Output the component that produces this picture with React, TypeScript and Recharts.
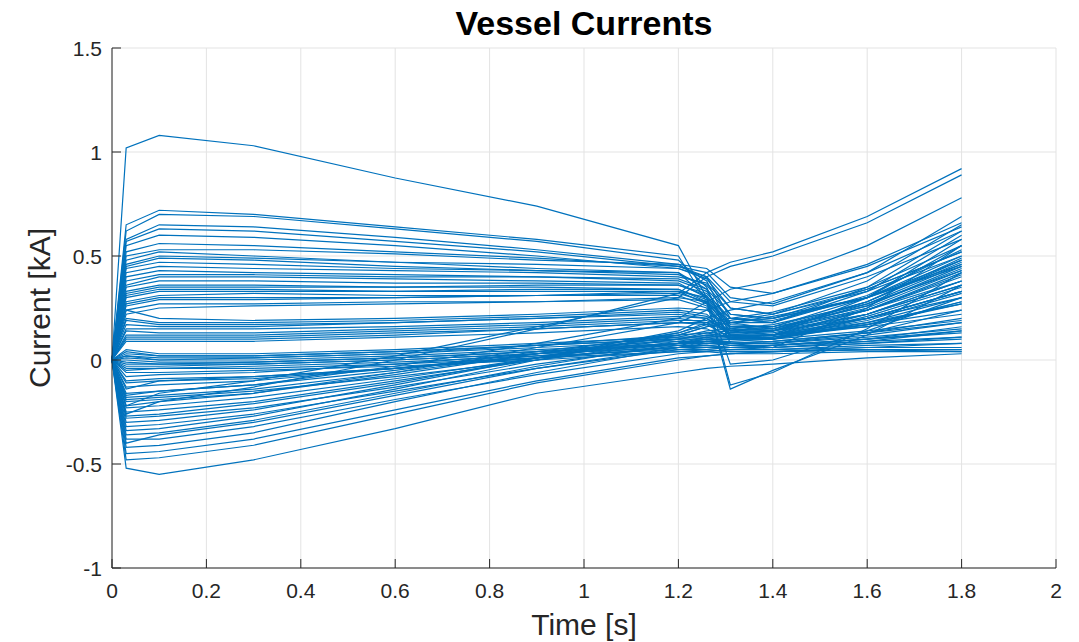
import { CartesianGrid, Line, LineChart, XAxis, YAxis } from "recharts"

// sample times [s]
const time = [0, 0.03, 0.1, 0.3, 0.6, 0.9, 1.2, 1.26, 1.31, 1.4, 1.6, 1.8]

// vessel filament currents [kA], one row per filament
const vesselCurrents: number[][] = [
  [0, 1.02, 1.08, 1.03, 0.875, 0.74, 0.55, 0.3, -0.12, -0.06, 0.15, 0.42],
  [0, 0.65, 0.72, 0.7, 0.64, 0.58, 0.5, 0.28, -0.14, -0.05, 0.12, 0.36],
  [0, 0.62, 0.7, 0.69, 0.63, 0.57, 0.48, 0.35, 0.08, 0.06, 0.25, 0.55],
  [0, 0.58, 0.65, 0.64, 0.59, 0.53, 0.46, 0.38, 0.15, 0.12, 0.3, 0.58],
  [0, 0.57, 0.63, 0.62, 0.57, 0.52, 0.45, 0.4, 0.2, 0.18, 0.35, 0.62],
  [0, 0.55, 0.6, 0.59, 0.55, 0.5, 0.44, 0.39, 0.25, 0.22, 0.38, 0.65],
  [0, 0.52, 0.56, 0.55, 0.52, 0.49, 0.45, 0.42, 0.3, 0.27, 0.42, 0.69],
  [0, 0.5, 0.53, 0.53, 0.51, 0.48, 0.46, 0.44, 0.35, 0.32, 0.45, 0.64],
  [0, 0.48, 0.52, 0.5, 0.47, 0.44, 0.42, 0.34, 0.12, 0.1, 0.2, 0.33],
  [0, 0.46, 0.5, 0.49, 0.47, 0.46, 0.44, 0.4, 0.28, 0.26, 0.4, 0.58],
  [0, 0.45, 0.49, 0.48, 0.45, 0.43, 0.41, 0.36, 0.22, 0.2, 0.34, 0.52],
  [0, 0.44, 0.47, 0.46, 0.44, 0.43, 0.42, 0.3, -0.02, 0, 0.14, 0.3],
  [0, 0.42, 0.45, 0.44, 0.43, 0.42, 0.4, 0.37, 0.25, 0.22, 0.33, 0.5],
  [0, 0.4, 0.43, 0.42, 0.41, 0.4, 0.39, 0.34, 0.22, 0.2, 0.3, 0.46],
  [0, 0.38, 0.41, 0.41, 0.4, 0.4, 0.38, 0.33, 0.18, 0.15, 0.26, 0.44],
  [0, 0.36, 0.4, 0.4, 0.39, 0.38, 0.37, 0.3, 0.16, 0.14, 0.28, 0.47],
  [0, 0.35, 0.38, 0.38, 0.37, 0.37, 0.36, 0.32, 0.2, 0.18, 0.31, 0.53],
  [0, 0.33, 0.36, 0.36, 0.35, 0.35, 0.34, 0.28, 0.14, 0.12, 0.24, 0.4],
  [0, 0.32, 0.35, 0.35, 0.35, 0.36, 0.36, 0.31, 0.17, 0.16, 0.3, 0.55],
  [0, 0.31, 0.34, 0.34, 0.33, 0.33, 0.33, 0.27, 0.12, 0.1, 0.22, 0.38],
  [0, 0.3, 0.33, 0.33, 0.33, 0.34, 0.34, 0.29, 0.16, 0.15, 0.28, 0.49],
  [0, 0.28, 0.31, 0.32, 0.31, 0.31, 0.31, 0.26, 0.11, 0.1, 0.21, 0.35],
  [0, 0.27, 0.3, 0.3, 0.3, 0.31, 0.33, 0.3, 0.2, 0.19, 0.3, 0.5],
  [0, 0.26, 0.29, 0.29, 0.3, 0.31, 0.32, 0.28, 0.15, 0.14, 0.27, 0.46],
  [0, 0.24, 0.27, 0.27, 0.28, 0.28, 0.29, 0.25, 0.12, 0.12, 0.24, 0.41],
  [0, 0.22, 0.25, 0.26, 0.27, 0.28, 0.3, 0.28, 0.18, 0.18, 0.33, 0.6],
  [0, 0.24, 0.2, 0.19, 0.2, 0.22, 0.25, 0.24, 0.16, 0.16, 0.28, 0.48],
  [0, 0.2, 0.18, 0.18, 0.19, 0.21, 0.24, 0.22, 0.12, 0.12, 0.22, 0.38],
  [0, 0.19, 0.17, 0.17, 0.18, 0.2, 0.22, 0.2, 0.12, 0.12, 0.2, 0.33],
  [0, 0.17, 0.16, 0.16, 0.18, 0.2, 0.23, 0.21, 0.14, 0.14, 0.25, 0.43],
  [0, 0.15, 0.15, 0.15, 0.16, 0.18, 0.21, 0.2, 0.13, 0.13, 0.22, 0.36],
  [0, 0.14, 0.13, 0.13, 0.15, 0.17, 0.2, 0.18, 0.1, 0.1, 0.18, 0.3],
  [0, 0.12, 0.12, 0.12, 0.14, 0.16, 0.19, 0.19, 0.14, 0.15, 0.26, 0.45],
  [0, 0.11, 0.11, 0.11, 0.13, 0.15, 0.18, 0.17, 0.11, 0.11, 0.19, 0.32],
  [0, 0.1, 0.1, 0.1, 0.12, 0.15, 0.18, 0.18, 0.13, 0.14, 0.24, 0.42],
  [0, 0.09, 0.09, 0.09, 0.11, 0.13, 0.16, 0.15, 0.1, 0.1, 0.17, 0.28],
  [0, 0.05, 0.03, 0.03, 0.05, 0.08, 0.11, 0.11, 0.08, 0.08, 0.12, 0.18],
  [0, 0.03, 0.02, 0.02, 0.04, 0.07, 0.1, 0.1, 0.08, 0.08, 0.11, 0.15],
  [0, 0.02, 0.01, 0.01, 0.03, 0.06, 0.09, 0.09, 0.07, 0.07, 0.1, 0.13],
  [0, 0.01, 0, 0, 0.02, 0.05, 0.08, 0.08, 0.07, 0.07, 0.09, 0.11],
  [0, 0, -0.01, -0.01, 0.01, 0.04, 0.07, 0.07, 0.06, 0.06, 0.08, 0.1],
  [0, -0.01, -0.02, -0.02, 0, 0.03, 0.06, 0.06, 0.05, 0.05, 0.07, 0.08],
  [0, -0.02, -0.02, -0.01, 0.01, 0.04, 0.08, 0.09, 0.08, 0.09, 0.13, 0.2],
  [0, -0.03, -0.03, -0.02, 0, 0.03, 0.06, 0.06, 0.05, 0.05, 0.06, 0.06],
  [0, 0.02, 0, 0.01, 0.03, 0.07, 0.12, 0.13, 0.11, 0.12, 0.18, 0.27],
  [0, -0.04, -0.04, -0.03, -0.01, 0.02, 0.05, 0.05, 0.04, 0.04, 0.05, 0.04],
  [0, -0.05, -0.04, -0.04, -0.02, 0.01, 0.04, 0.05, 0.04, 0.04, 0.05, 0.05],
  [0, 0.04, 0.02, 0.02, 0.04, 0.07, 0.1, 0.12, 0.11, 0.12, 0.16, 0.22],
  [0, -0.06, -0.06, -0.05, -0.03, 0, 0.04, 0.04, 0.03, 0.03, 0.04, 0.04],
  [0, -0.08, -0.07, -0.06, -0.02, 0.03, 0.08, 0.09, 0.08, 0.08, 0.13, 0.24],
  [0, -0.1, -0.09, -0.08, -0.04, 0.01, 0.06, 0.07, 0.06, 0.06, 0.09, 0.14],
  [0, -0.11, -0.1, -0.09, -0.04, 0.02, 0.08, 0.1, 0.1, 0.11, 0.16, 0.28],
  [0, -0.13, -0.12, -0.1, -0.04, 0.03, 0.1, 0.13, 0.14, 0.16, 0.24, 0.38],
  [0, -0.14, -0.1, -0.08, -0.04, 0.01, 0.06, 0.07, 0.06, 0.07, 0.1, 0.16],
  [0, -0.16, -0.15, -0.12, -0.05, 0.04, 0.12, 0.16, 0.18, 0.2, 0.3, 0.48],
  [0, -0.17, -0.15, -0.12, -0.03, 0.08, 0.2, 0.28, 0.34, 0.38, 0.55, 0.78],
  [0, -0.18, -0.17, -0.14, -0.06, 0.03, 0.11, 0.14, 0.15, 0.17, 0.27, 0.43],
  [0, -0.19, -0.18, -0.15, -0.08, 0, 0.08, 0.1, 0.1, 0.11, 0.17, 0.27],
  [0, -0.2, -0.19, -0.16, -0.07, 0.03, 0.13, 0.18, 0.2, 0.23, 0.35, 0.55],
  [0, -0.22, -0.2, -0.16, -0.06, 0.06, 0.18, 0.24, 0.28, 0.32, 0.46, 0.66],
  [0, -0.22, -0.16, -0.1, 0.02, 0.16, 0.3, 0.4, 0.45, 0.5, 0.66, 0.89],
  [0, -0.23, -0.22, -0.18, -0.09, 0.01, 0.1, 0.12, 0.13, 0.14, 0.2, 0.3],
  [0, -0.25, -0.24, -0.2, -0.1, 0, 0.09, 0.11, 0.11, 0.12, 0.17, 0.24],
  [0, -0.26, -0.2, -0.13, 0, 0.15, 0.32, 0.42, 0.47, 0.52, 0.69, 0.92],
  [0, -0.27, -0.26, -0.21, -0.11, 0.01, 0.12, 0.16, 0.18, 0.21, 0.3, 0.45],
  [0, -0.28, -0.27, -0.23, -0.13, -0.02, 0.07, 0.09, 0.09, 0.1, 0.14, 0.19],
  [0, -0.3, -0.29, -0.24, -0.12, 0.01, 0.14, 0.2, 0.24, 0.28, 0.42, 0.62],
  [0, -0.32, -0.31, -0.26, -0.15, -0.04, 0.05, 0.06, 0.06, 0.07, 0.1, 0.14],
  [0, -0.34, -0.33, -0.27, -0.14, 0, 0.13, 0.17, 0.19, 0.22, 0.34, 0.52],
  [0, -0.36, -0.35, -0.29, -0.16, -0.03, 0.08, 0.11, 0.12, 0.14, 0.22, 0.36],
  [0, -0.38, -0.38, -0.32, -0.19, -0.07, 0.03, 0.04, 0.05, 0.06, 0.08, 0.11],
  [0, -0.4, -0.36, -0.3, -0.17, -0.04, 0.06, 0.08, 0.08, 0.09, 0.13, 0.18],
  [0, -0.42, -0.41, -0.35, -0.2, -0.06, 0.06, 0.09, 0.1, 0.12, 0.2, 0.33],
  [0, -0.45, -0.44, -0.38, -0.24, -0.1, 0.01, 0.02, 0.03, 0.04, 0.06, 0.08],
  [0, -0.48, -0.47, -0.41, -0.26, -0.11, 0, 0.02, 0.03, 0.04, 0.05, 0.05],
  [0, -0.52, -0.55, -0.48, -0.33, -0.16, -0.06, -0.04, -0.03, -0.02, 0.01, 0.03],
]

const xTicks = [0, 0.2, 0.4, 0.6, 0.8, 1, 1.2, 1.4, 1.6, 1.8, 2]
const yTicks = [-1, -0.5, 0, 0.5, 1, 1.5]

const FONT = "'Liberation Sans', Arial, Helvetica, sans-serif"
const INK = "#262626"
const LINE_COLOR = "#0072BD"

const chartData = time.map((t, i) => {
  const row: Record<string, number> = { t }
  vesselCurrents.forEach((c, j) => {
    row[`c${j}`] = c[i]
  })
  return row
})

// MATLAB-style ticks: short mark pointing into the axes, label outside
const XTick = ({ x, y, payload }: any) => (
  <g>
    <line x1={x} y1={y} x2={x} y2={y - 9} stroke={INK} strokeWidth={1} />
    <text x={x} y={y + 30} textAnchor="middle" fill={INK} fontSize={21} fontFamily={FONT}>
      {payload.value}
    </text>
  </g>
)

const YTick = ({ x, y, payload }: any) => (
  <g>
    <line x1={x} y1={y} x2={x + 9} y2={y} stroke={INK} strokeWidth={1} />
    <text x={x - 10} y={y + 8} textAnchor="end" fill={INK} fontSize={21} fontFamily={FONT}>
      {payload.value}
    </text>
  </g>
)

export default function App() {
  return (
    <div style={{ position: "absolute", left: 0, top: 0, width: 1079, height: 642, background: "#fff" }}>
      <LineChart width={1079} height={642} data={chartData} margin={{ top: 48, right: 23, bottom: 44, left: 52 }}>
        <CartesianGrid stroke="#e3e3e3" strokeWidth={1} />
        <XAxis
          dataKey="t"
          type="number"
          domain={[0, 2]}
          ticks={xTicks}
          interval={0}
          height={30}
          tickSize={0}
          tickMargin={0}
          tickLine={false}
          stroke={INK}
          tick={<XTick />}
        />
        <YAxis
          type="number"
          domain={[-1, 1.5]}
          ticks={yTicks}
          interval={0}
          width={60}
          tickSize={0}
          tickMargin={0}
          tickLine={false}
          stroke={INK}
          tick={<YTick />}
        />
        {vesselCurrents.map((_, j) => (
          <Line
            key={`c${j}`}
            dataKey={`c${j}`}
            type="linear"
            stroke={LINE_COLOR}
            strokeWidth={1.2}
            dot={false}
            activeDot={false}
            isAnimationActive={false}
          />
        ))}
      </LineChart>
      <svg
        width={1079}
        height={642}
        style={{ position: "absolute", left: 0, top: 0, pointerEvents: "none" }}
        fontFamily={FONT}
      >
        <text x={584} y={35} textAnchor="middle" fontSize={34} fontWeight="bold" fill="#000">
          Vessel Currents
        </text>
        <text x={584} y={635} textAnchor="middle" fontSize={30} fill={INK}>
          Time [s]
        </text>
        <text x={50} y={308} textAnchor="middle" fontSize={30} fill={INK} transform="rotate(-90 50 308)">
          Current [kA]
        </text>
      </svg>
    </div>
  )
}
